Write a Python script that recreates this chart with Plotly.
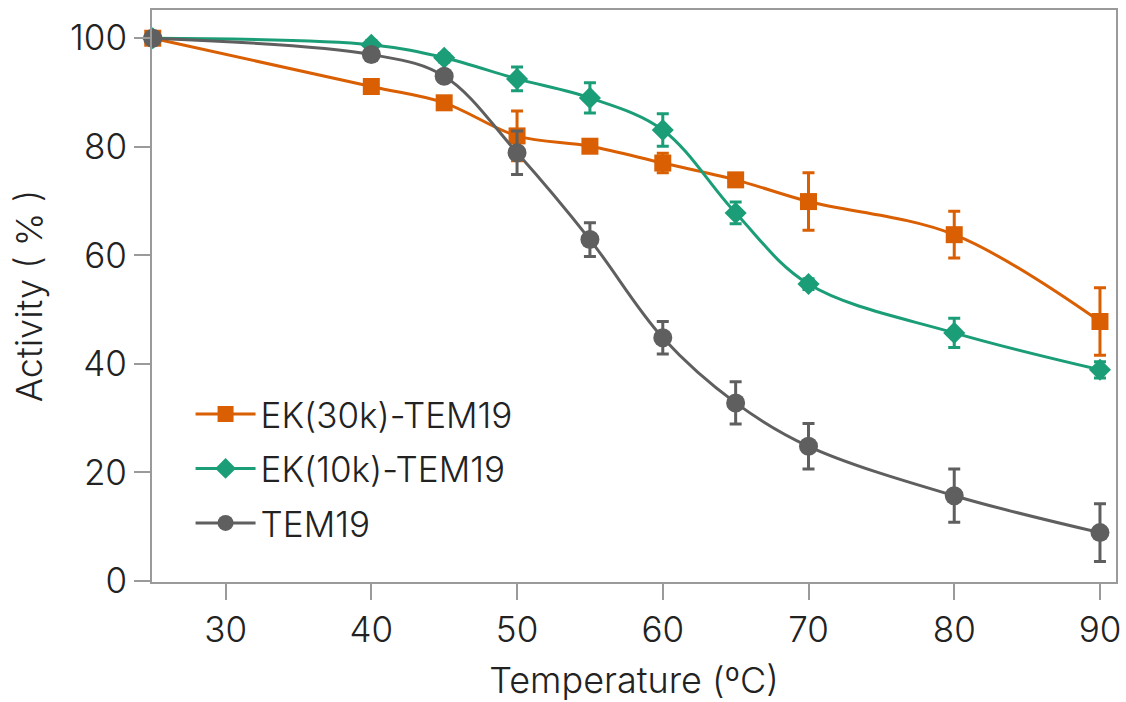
import plotly.graph_objects as go

temperature = [25, 40, 45, 50, 55, 60, 65, 70, 80, 90]

ek30_name = "EK(30k)-TEM19"
ek30_vals = [100, 91.1, 88.1, 82.0, 80.1, 77.0, 73.9, 69.9, 63.8, 47.8]
ek30_err = [0, 0.5, 0.5, 4.6, 0.6, 1.8, 0.8, 5.3, 4.3, 6.2]

ek10_name = "EK(10k)-TEM19"
ek10_vals = [100, 98.8, 96.4, 92.5, 89.0, 83.1, 67.8, 54.7, 45.7, 38.9]
ek10_err = [0, 0.8, 0.8, 2.2, 2.8, 3.0, 2.0, 1.0, 2.7, 1.5]

tem_name = "TEM19"
tem_vals = [100, 97.0, 93.0, 78.9, 62.9, 44.8, 32.8, 24.8, 15.7, 8.9]
tem_err = [0, 0.5, 0.5, 4.0, 3.1, 3.0, 3.9, 4.2, 4.9, 5.3]

x_ticks = [30, 40, 50, 60, 70, 80, 90]
y_ticks = [0, 20, 40, 60, 80, 100]

ORANGE = "#D95F02"
GREEN = "#1B9E77"
GRAY = "#5F5F5F"
FONT = "Inter"
TXT = "#222222"

fig = go.Figure()

def add(name, vals, err, color, symbol, size):
    fig.add_trace(go.Scatter(
        x=temperature, y=vals, name=name, legendgroup=name,
        mode="lines+markers",
        line=dict(color=color, width=3, shape="spline", smoothing=1.0),
        marker=dict(color=color, symbol=symbol, size=size, line=dict(width=0)),
        error_y=dict(type="data", array=err, visible=True, color=color,
                     thickness=3, width=6),
        cliponaxis=False,
    ))

add(ek30_name, ek30_vals, ek30_err, ORANGE, "square", 17)
add(ek10_name, ek10_vals, ek10_err, GREEN, "diamond", 17)
add(tem_name, tem_vals, tem_err, GRAY, "circle", 19)

axis_common = dict(
    showline=True, linecolor="#9a9a9a", linewidth=2, mirror=True,
    ticks="outside", ticklen=16, tickwidth=2, tickcolor="#9a9a9a",
    showgrid=False, zeroline=False, automargin=False,
    tickfont=dict(family=FONT, size=35, color=TXT, weight=300),
)

fig.update_layout(
    width=1126, height=702,
    margin=dict(l=152, r=10, t=10, b=120),
    paper_bgcolor="white", plot_bgcolor="white",
    font=dict(family=FONT, color=TXT, weight=300),
    showlegend=True,
    legend=dict(
        x=0.04, y=0.345, xanchor="left", yanchor="top",
        bgcolor="rgba(0,0,0,0)",
        font=dict(family=FONT, size=35, color=TXT, weight=300),
        itemwidth=60, tracegroupgap=6, traceorder="grouped",
    ),
    xaxis=dict(
        range=[24.95, 91.1], tickvals=x_ticks,
        title=dict(text="Temperature (ºC)", font=dict(family=FONT, size=36, color=TXT, weight=300), standoff=22),
        **axis_common,
    ),
    yaxis=dict(
        range=[-0.2, 105.2], tickvals=y_ticks,
        title=dict(text="Activity ( % )", font=dict(family=FONT, size=36, color=TXT, weight=300), standoff=16),
        **axis_common,
    ),
)

fig.write_html("out.html")
